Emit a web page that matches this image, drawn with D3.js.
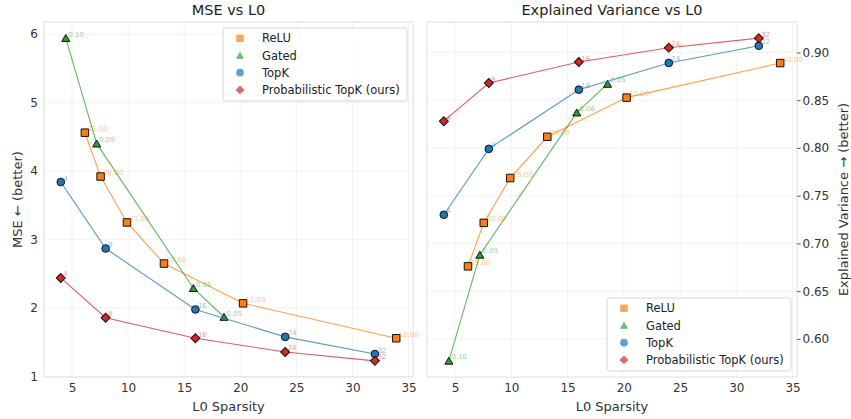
<!DOCTYPE html>
<html>
<head>
<meta charset="utf-8">
<script src="https://cdn.jsdelivr.net/npm/d3@7"></script>
<style>
  body { margin: 0; background: #fff; }
  text { font-family: "DejaVu Sans", sans-serif; }
</style>
</head>
<body>
<div id="chart"></div>
<script>
// values
var reluL0 = [6.15, 7.55, 9.9, 13.2, 20.25, 33.9];
var reluMSE = [4.56, 3.92, 3.25, 2.65, 2.07, 1.56];
var reluEV = [0.676, 0.7215, 0.7685, 0.8117, 0.8527, 0.8889];
var reluLabels = ["35.00", "30.00", "25.00", "20.00", "15.00", "10.00"];

var gatedL0 = [4.45, 7.2, 15.82, 18.55];
var gatedMSE = [5.94, 4.40, 2.29, 1.87];
var gatedEV = [0.577, 0.688, 0.837, 0.867];
var gatedLabels = ["0.10", "0.09", "0.06", "0.05"];

var topkL0 = [4, 8, 16, 24, 32];
var topkMSE = [3.84, 2.87, 1.98, 1.58, 1.33];
var topkEV = [0.730, 0.799, 0.861, 0.889, 0.907];
var topkLabels = ["4", "8", "16", "24", "32"];

var ptopkL0 = [4, 8, 16, 24, 32];
var ptopkMSE = [2.44, 1.86, 1.56, 1.36, 1.23];
var ptopkEV = [0.828, 0.868, 0.890, 0.905, 0.915];
var ptopkLabels = ["4", "8", "16", "24", "32"];

var xTicks = [5, 10, 15, 20, 25, 30, 35];
var mseTicks = [1, 2, 3, 4, 5, 6];
var evTicks = [0.60, 0.65, 0.70, 0.75, 0.80, 0.85, 0.90];

var methods = [
  {name: "ReLU", color: "#ff7f0e", shape: "square", l0: reluL0, mse: reluMSE, ev: reluEV, labels: reluLabels},
  {name: "Gated", color: "#2ca02c", shape: "triangle", l0: gatedL0, mse: gatedMSE, ev: gatedEV, labels: gatedLabels},
  {name: "TopK", color: "#1f77b4", shape: "circle", l0: topkL0, mse: topkMSE, ev: topkEV, labels: topkLabels},
  {name: "Probabilistic TopK (ours)", color: "#d62728", shape: "diamond", l0: ptopkL0, mse: ptopkMSE, ev: ptopkEV, labels: ptopkLabels}
];

var svg = d3.select("#chart").append("svg")
    .attr("width", 851)
    .attr("height", 419);

// matplotlib style 5% margins
function pad(arr){
  var ext = d3.extent(arr);
  var m = (ext[1] - ext[0]) * 0.05;
  return [ext[0] - m, ext[1] + m];
}

function markerPath(shape){
  if (shape == "square") return d3.symbol(d3.symbolSquare, 56)();
  if (shape == "circle") return d3.symbol(d3.symbolCircle, 46)();
  if (shape == "diamond") return d3.symbol(d3.symbolSquare, 40)();
  return d3.symbol(d3.symbolTriangle, 28)();
}

function markerTransform(shape, x, y){
  if (shape == "diamond") return "translate(" + x + "," + y + ") rotate(45)";
  if (shape == "triangle") return "translate(" + x + "," + (y + 1) + ")";
  return "translate(" + x + "," + y + ")";
}

function drawPanel(cfg){
  var allX = [], allY = [];
  methods.forEach(function(m){
    allX = allX.concat(m.l0);
    allY = allY.concat(m[cfg.key]);
  });

  var x = d3.scaleLinear().domain(pad(allX)).range([cfg.left, cfg.right]);
  var y = d3.scaleLinear().domain(pad(allY)).range([cfg.bottom, cfg.top]);

  var g = svg.append("g");

  // grid
  g.selectAll(".gx").data(xTicks).enter().append("line")
      .attr("x1", function(d){ return x(d); })
      .attr("x2", function(d){ return x(d); })
      .attr("y1", cfg.top).attr("y2", cfg.bottom)
      .attr("stroke", "#efefef").attr("stroke-width", 0.8);
  g.selectAll(".gy").data(cfg.ticks).enter().append("line")
      .attr("x1", cfg.left).attr("x2", cfg.right)
      .attr("y1", function(d){ return y(d); })
      .attr("y2", function(d){ return y(d); })
      .attr("stroke", "#efefef").attr("stroke-width", 0.8);

  g.append("rect")
      .attr("x", cfg.left).attr("y", cfg.top)
      .attr("width", cfg.right - cfg.left)
      .attr("height", cfg.bottom - cfg.top)
      .attr("fill", "none")
      .attr("stroke", "#dedede");

  // axes
  var xAxis = g.append("g")
      .attr("transform", "translate(0," + cfg.bottom + ")")
      .call(d3.axisBottom(x).tickValues(xTicks).tickSize(0).tickPadding(6));
  var yAxis;
  if (cfg.side == "left") {
    yAxis = g.append("g")
        .attr("transform", "translate(" + cfg.left + ",0)")
        .call(d3.axisLeft(y).tickValues(cfg.ticks).tickFormat(cfg.fmt).tickSize(0).tickPadding(6));
  } else {
    yAxis = g.append("g")
        .attr("transform", "translate(" + cfg.right + ",0)")
        .call(d3.axisRight(y).tickValues(cfg.ticks).tickFormat(cfg.fmt).tickSize(3.5).tickPadding(2));
  }
  [xAxis, yAxis].forEach(function(a){
    a.select(".domain").remove();
    a.selectAll("text").attr("fill", "#333").style("font-size", "12px")
        .style("font-family", "DejaVu Sans, sans-serif");
    a.selectAll("line").attr("stroke", "#555");
  });

  // title and labels
  g.append("text")
      .attr("x", (cfg.left + cfg.right) / 2).attr("y", 15)
      .attr("text-anchor", "middle")
      .attr("fill", "#222")
      .style("font-size", "14.5px")
      .text(cfg.title);
  g.append("text")
      .attr("x", (cfg.left + cfg.right) / 2).attr("y", 411)
      .attr("text-anchor", "middle")
      .attr("fill", "#333")
      .style("font-size", "13px")
      .text("L0 Sparsity");
  g.append("text")
      .attr("transform", "translate(" + cfg.ylabX + "," + ((cfg.top + cfg.bottom) / 2) + ") rotate(-90)")
      .attr("text-anchor", "middle")
      .attr("dy", "0.35em")
      .attr("fill", "#333")
      .style("font-size", "13px")
      .text(cfg.ylab);

  // series
  methods.forEach(function(m){
    var pts = m.l0.map(function(d, i){ return [d, m[cfg.key][i], m.labels[i]]; });

    g.append("path")
        .datum(pts)
        .attr("fill", "none")
        .attr("stroke", m.color)
        .attr("stroke-opacity", 0.75)
        .attr("stroke-width", 1.1)
        .attr("d", d3.line()
          .x(function(d){ return x(d[0]); })
          .y(function(d){ return y(d[1]); }));

    g.selectAll(null).data(pts).enter().append("path")
        .attr("d", markerPath(m.shape))
        .attr("transform", function(d){ return markerTransform(m.shape, x(d[0]), y(d[1])); })
        .attr("fill", m.color)
        .attr("stroke", "#111")
        .attr("stroke-width", 1);

    g.selectAll(null).data(pts).enter().append("text")
        .attr("x", function(d){ return x(d[0]) + 2.5; })
        .attr("y", function(d){ return y(d[1]) - 1.5; })
        .attr("fill", m.color)
        .attr("fill-opacity", 0.5)
        .style("font-size", "7px")
        .text(function(d){ return d[2]; });
  });

  // legend
  var lw = 184, lh = 73;
  var lx = cfg.right - 6 - lw;
  var ly = cfg.legendTop ? cfg.top + 6 : cfg.bottom - 6 - lh;
  var leg = g.append("g").attr("transform", "translate(" + lx + "," + ly + ")");
  leg.append("rect")
      .attr("width", lw).attr("height", lh)
      .attr("rx", 2.5)
      .attr("fill", "#fff").attr("fill-opacity", 0.85)
      .attr("stroke", "#d6d6d6");
  methods.forEach(function(m, i){
    var ry = 10.3 + i * 17.2;
    leg.append("path")
        .attr("d", markerPath(m.shape))
        .attr("transform", markerTransform(m.shape, 17, ry))
        .attr("fill", m.color)
        .attr("fill-opacity", 0.7);
    leg.append("text")
        .attr("x", 39).attr("y", ry)
        .attr("dy", "0.35em")
        .attr("fill", "#222")
        .style("font-size", "11.5px")
        .text(m.name);
  });
}

drawPanel({key: "mse", title: "MSE vs L0", ylab: "MSE \u2190 (better)",
  left: 44, right: 413, top: 22, bottom: 377, ticks: mseTicks, fmt: d3.format("d"),
  side: "left", ylabX: 17, legendTop: true});

drawPanel({key: "ev", title: "Explained Variance vs L0", ylab: "Explained Variance \u2192 (better)",
  left: 427, right: 797, top: 22, bottom: 377, ticks: evTicks, fmt: d3.format(".2f"),
  side: "right", ylabX: 843, legendTop: false});
</script>
</body>
</html>
